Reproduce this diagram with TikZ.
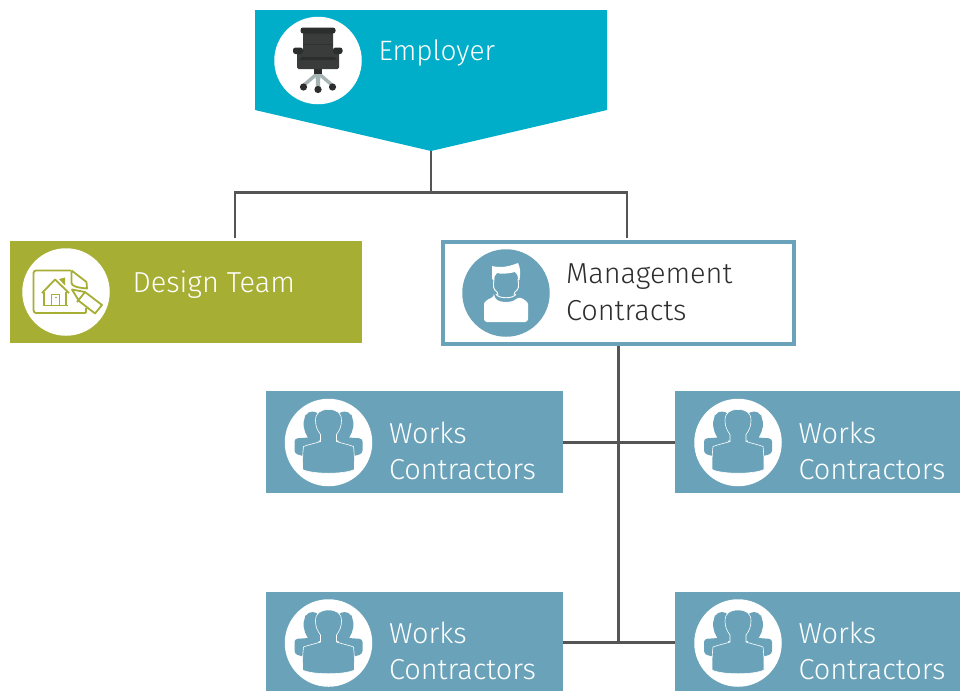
\documentclass[tikz,border=0pt]{standalone}
\usepackage{fontspec}
\setmainfont{Fira Sans Light}
\definecolor{cyanb}{HTML}{00AEC9}
\definecolor{oliveb}{HTML}{A6AE33}
\definecolor{steelb}{HTML}{6AA3B9}
\definecolor{linec}{HTML}{555555}
\definecolor{chairA}{HTML}{3A3C3C}
\definecolor{chairB}{HTML}{2C2E2E}
\definecolor{chairC}{HTML}{A4B2B2}
\tikzset{
  x=1pt,y=-1pt,
  box/.style={rectangle,inner sep=0,outer sep=0,anchor=north west},
  iconcirc/.style={circle,fill=white,inner sep=0,outer sep=0,minimum size=87.5pt},
  lbl/.style={inner sep=0,outer sep=0,anchor=west,align=left,font=\fontsize{28.9}{36.6}\selectfont,text=white},
  conn/.style={draw=linec,line width=2.8pt},
  group/.pic={
    \fill[steelb,rounded corners=2pt] (-23,-26) .. controls (-20,-32) and (-12,-32) .. (-9,-26) -- (-6,-2) -- (-20,-2) -- (-20,-4) .. controls (-25,-12) and (-26,-20) .. (-23,-26) -- cycle;
    \fill[steelb,rounded corners=2pt] (23,-26) .. controls (20,-32) and (12,-32) .. (9,-26) -- (6,-2) -- (20,-2) -- (20,-4) .. controls (25,-12) and (26,-20) .. (23,-26) -- cycle;
    \fill[steelb,rounded corners=3pt] (-20,-5) -- (-34,-4) -- (-34,11) -- (-24,14) -- (-10,10) -- (-10,-5) -- cycle;
    \fill[steelb,rounded corners=3pt] (20,-5) -- (34,-4) -- (34,11) -- (24,14) -- (10,10) -- (10,-5) -- cycle;
    \filldraw[fill=steelb,draw=white,line width=0.6pt] (0,-33) .. controls (8,-33) and (13,-30) .. (13,-22)
      .. controls (13,-16) and (11,-12) .. (8,-8) -- (8,-1) .. controls (14,1) and (20,2) .. (25,4)
      .. controls (26,12) and (26,20) .. (26,27) .. controls (16,32) and (-16,32) .. (-26,27)
      .. controls (-26,20) and (-26,12) .. (-25,4) .. controls (-20,2) and (-14,1) .. (-8,-1)
      -- (-8,-8) .. controls (-11,-12) and (-13,-16) .. (-13,-22) .. controls (-13,-30) and (-8,-33) .. (0,-33) -- cycle;
  },
}
\begin{document}
\begin{tikzpicture}
\useasboundingbox (0,0) rectangle (960,691);
% boxes
\fill[cyanb] (255,10) -- (607,10) -- (607,110) -- (431,151) -- (255,110) -- cycle;
\coordinate (emptip) at (431,151);
\coordinate (junctop) at (431,192.5);
\coordinate (dtop) at (235,238);
\coordinate (mtop) at (627,238);
\coordinate (jleft) at (235,192.5);
\coordinate (jright) at (627,192.5);
\node[box,fill=oliveb,minimum width=352pt,minimum height=102pt] (design) at (10,241) {};
\node[box,fill=white,draw=steelb,line width=4pt,minimum width=351pt,minimum height=102pt] (mgmt) at (443,242) {};
\node[box,fill=steelb,minimum width=297pt,minimum height=102pt] (w1) at (266,391) {};
\node[box,fill=steelb,minimum width=285pt,minimum height=102pt] (w2) at (675,391) {};
\node[box,fill=steelb,minimum width=297pt,minimum height=99pt] (w3) at (266,592) {};
\node[box,fill=steelb,minimum width=285pt,minimum height=99pt] (w4) at (675,592) {};
\coordinate (mbot) at (618.5,346);
\coordinate (jbot) at (618.5,642.5);
\coordinate (j1) at (618.5,442.5);
% connectors
\draw[conn] (emptip) -- (junctop);
\draw[conn,line join=miter] (dtop) -- (jleft) -- (jright) -- (mtop);
\draw[conn] (mbot) -- (jbot);
\draw[conn] (563,442.5) coordinate (w1e) -- (j1) -- (675,442.5) coordinate (w2w);
\draw[conn] (563,642.5) coordinate (w3e) -- (jbot) -- (675,642.5) coordinate (w4w);
% circles
\node[iconcirc] (cemp) at (318,60.5) {};
\node[iconcirc] (cdes) at (66,292) {};
\node[iconcirc,fill=steelb] (cman) at (506,293) {};
\node[iconcirc] (c1) at (328.5,442.5) {};
\node[iconcirc] (c2) at (738,442.5) {};
\node[iconcirc] (c3) at (328.5,643) {};
\node[iconcirc] (c4) at (738,643) {};
% chair
\begin{scope}
\draw[chairC,line width=3.4pt,line cap=round] (318,73) -- (304,85);
\draw[chairC,line width=3.4pt,line cap=round] (318,73) -- (332,85);
\fill[chairC] (315.5,70) -- (320.5,70) -- (320,88) -- (316,88) -- cycle;
\fill[chairB] (314,67) rectangle (322,74);
\fill[chairB] (303.5,87) circle (3.6) (318,89.5) circle (3.6) (332.5,87) circle (3.6);
\fill[chairA,rounded corners=1.5pt] (303,32) rectangle (333,58);
\fill[chairB,rounded corners=2.5pt] (300.5,27.5) rectangle (335.5,33.5);
\fill[chairB!70!chairA] (303,44) rectangle (333,45);
\fill[chairA,rounded corners=1.5pt] (297,50) rectangle (339,69);
\fill[chairB,rounded corners=2.5pt] (293,47.5) rectangle (303,54);
\fill[chairB,rounded corners=2.5pt] (333,47.5) rectangle (342.5,54);
\fill[chairB] (302,57) -- (334,57) -- (337,60) -- (299,60) -- cycle;
\end{scope}
% design icon
\begin{scope}[line width=1.8pt]
\draw[oliveb,rounded corners=1pt] (71,270.5) -- (35,270.5) -- (33.5,272) -- (33.5,311) -- (35,313) -- (86,313) -- (86,308);
\draw[oliveb,line join=round] (71.5,270.5) -- (71.5,283) .. controls (72,286) and (76,287.5) .. (87,288.5) -- (86.5,282) -- (71.5,270.5);
\draw[oliveb,line join=round] (72,289.5) -- (85,292) -- (102,305) -- (95,313.5) -- (79,301) -- cycle (85,292) -- (77,302);
\draw[oliveb,line join=round] (42,293) -- (55,279.5) -- (69,293);
\fill[oliveb] (59,279) -- (65,277.5) -- (65,285.5) -- cycle;
\draw[oliveb] (44,292) -- (44,305.5) (66,292) -- (66,305.5) (42.5,305.5) -- (67.5,305.5);
\draw[oliveb,line width=1pt] (51,305) -- (51,294) -- (59,294) -- (59,305) (55,297) -- (57,297);
\end{scope}
% man icon
\begin{scope}[shift={(506,293)}]
\fill[white,rounded corners=3pt] (-12,4) .. controls (-18,6) and (-22,9) .. (-22,14) -- (-22,29) -- (22,29) -- (22,14) .. controls (22,9) and (18,6) .. (12,4) .. controls (6,10) and (-6,10) .. (-12,4) -- cycle;
\draw[white,line width=0.9pt] (-10,1) .. controls (-8,6) and (8,6) .. (10,1);
\draw[white,line width=0.9pt] (-12,-14) .. controls (-13,-6) and (-13,-4) .. (-9,-1) .. controls (-9,-1) and (-8,0) .. (-8,2) (12,-14) .. controls (13,-6) and (13,-4) .. (9,-1) .. controls (9,-1) and (8,0) .. (8,2);
\fill[white] (-14,-27) .. controls (-6,-25) and (2,-26) .. (12,-30) .. controls (14,-26) and (15,-20) .. (13.5,-13) -- (12,-13) .. controls (12,-17) and (11,-20) .. (9,-21) .. controls (2,-19) and (-6,-19) .. (-9,-20) .. controls (-11,-18) and (-12,-16) .. (-12,-13) -- (-14,-14) -- cycle;
\end{scope}
% groups
\pic at (c1) {group};
\pic at (c2) {group};
\pic at (c3) {group};
\pic at (c4) {group};
% labels
\node[lbl,font=\fontsize{28}{36.6}\selectfont] (temp) at (378.5,52.5) {Employer};
\node[lbl] (tdes) at (132.5,284.5) {Design Team};
\node[lbl,text=black!82] (tman) at (566,292.5) {Management\\Contracts};
\node[lbl] (t1) at (389,451) {Works\\Contractors};
\node[lbl] (t2) at (798.5,451) {Works\\Contractors};
\node[lbl] (t3) at (389,651) {Works\\Contractors};
\node[lbl] (t4) at (798.5,651) {Works\\Contractors};
\end{tikzpicture}
\end{document}
